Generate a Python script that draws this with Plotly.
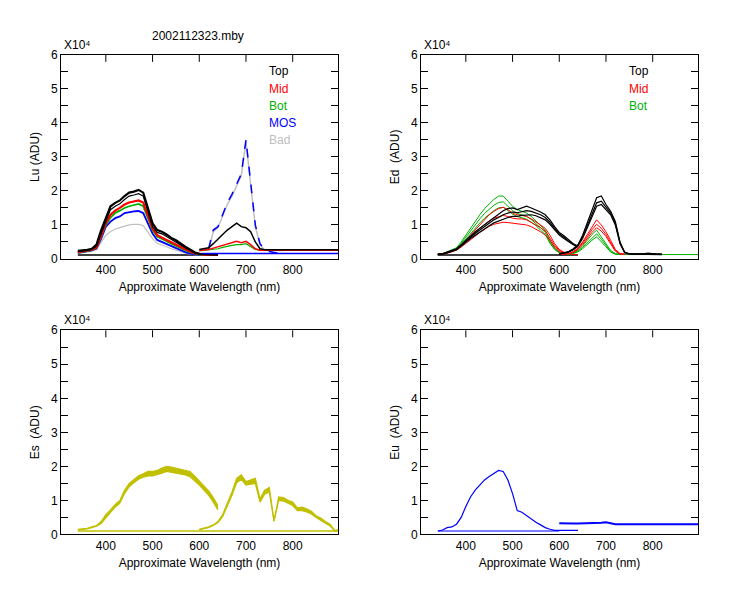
import plotly.graph_objects as go

# ---------------- data (values in units of 10^4 ADU) ----------------
WL_A = [340, 350, 360, 370, 380, 390, 400, 410, 420, 430, 440, 450, 460, 470, 480, 490,
        500, 510, 520, 530, 540, 550, 560, 570, 580, 590, 600, 610, 620, 630, 640]
WL_B = [600, 610, 620, 630, 640, 650, 660, 670, 680, 690, 700, 710, 720, 730, 740, 750,
        760, 770, 780, 790, 800, 810, 820, 830, 840, 850, 860, 870, 880, 890, 900]
DARK_A_X = [340, 640]
DARK_FULL_X = [340, 900]

# Lu
LU_TOP_A = [.24, .25, .27, .30, .42, .85, 1.20, 1.55, 1.65, 1.72, 1.85, 1.95, 1.98, 2.03, 1.95, 1.50,
            1.05, .85, .80, .72, .62, .55, .45, .36, .28, .20, .15, .14, .13, .13, .13]
LU_TOP2_A = [.22, .23, .25, .28, .38, .75, 1.10, 1.45, 1.55, 1.62, 1.75, 1.85, 1.88, 1.92, 1.85, 1.40,
             .95, .78, .74, .66, .57, .50, .41, .33, .25, .18, .14, .13, .13, .13, .13]
LU_MID_A = [.20, .22, .24, .27, .34, .70, 1.05, 1.30, 1.42, 1.50, 1.60, 1.66, 1.70, 1.72, 1.66, 1.30,
            .90, .70, .64, .56, .49, .42, .35, .28, .22, .17, .14, .13, .12, .12, .12]
LU_BOT_A = [.19, .21, .23, .26, .33, .66, 1.00, 1.22, 1.35, 1.42, 1.50, 1.55, 1.58, 1.62, 1.55, 1.22,
            .85, .66, .60, .52, .45, .38, .32, .26, .20, .16, .13, .12, .12, .12, .12]
LU_MOS_A = [.18, .20, .22, .25, .31, .60, .95, 1.10, 1.20, 1.25, 1.35, 1.38, 1.40, 1.41, 1.35, 1.05,
            .75, .56, .50, .43, .36, .30, .25, .20, .16, .13, .12, .12, .12, .12, .12]
LU_BAD_A = [.16, .18, .20, .23, .28, .50, .70, .80, .88, .92, .97, 1.00, 1.02, 1.02, .98, .80,
            .60, .46, .42, .36, .30, .25, .21, .17, .14, .12, .11, .11, .11, .11, .11]
LU_DARK_A = [.12, .12]

LU_TOP_B = [.28, .30, .33, .45, .60, .72, .85, .95, 1.05, .95, .92, .80, .50, .30, .27, .27,
            .27, .27, .27, .27, .27, .27, .27, .27, .27, .27, .27, .27, .27, .27, .27]
LU_MID_B = [.25, .26, .28, .32, .36, .40, .45, .50, .52, .48, .52, .42, .30, .26, .26, .26,
            .26, .26, .26, .26, .26, .26, .26, .26, .26, .26, .26, .26, .26, .26, .26]
LU_BOT_B = [.24, .25, .26, .28, .30, .34, .38, .40, .42, .42, .45, .36, .28, .26, .26, .26,
            .26, .26, None, None, None, None, None, None, None, None, None, None, None, None, None]
LU_MOS_B = [None, None, .30, .85, .95, 1.30, 1.65, 1.90, 2.20, 2.50, 3.50, 2.20, 1.00, .45, .28, .22,
            .18, .16, None, None, None, None, None, None, None, None, None, None, None, None, None]
LU_BAD_B = [None, None, .25, .80, .92, 1.25, 1.60, 1.85, 2.15, 2.45, 3.45, 2.10, .95, .42, .26, .25,
            .25, .25, .25, None, None, None, None, None, None, None, None, None, None, None, None]
LU_MOS_FLAT_X = [605, 900]
LU_MOS_FLAT = [.16, .16]

# Ed
ED_TOP1_A = [.14, .15, .20, .24, .30, .42, .55, .68, .80, .90, 1.00, 1.12, 1.22, 1.32, 1.42, 1.48,
             1.50, 1.45, 1.50, 1.55, 1.50, 1.45, 1.38, 1.30, 1.15, .95, .78, .68, .55, .45, .38]
ED_TOP2_A = [.14, .15, .19, .23, .28, .40, .52, .64, .75, .85, .95, 1.05, 1.15, 1.22, 1.30, 1.35,
             1.38, 1.36, 1.40, 1.42, 1.40, 1.36, 1.30, 1.22, 1.08, .90, .74, .64, .52, .43, .36]
ED_TOP3_A = [.13, .14, .18, .22, .27, .38, .50, .60, .70, .80, .90, .98, 1.06, 1.12, 1.18, 1.22,
             1.25, 1.25, 1.28, 1.30, 1.30, 1.27, 1.22, 1.15, 1.02, .85, .70, .60, .50, .42, .35]
ED_MID1_A = [.14, .15, .19, .23, .28, .40, .55, .70, .85, 1.00, 1.15, 1.30, 1.40, 1.48, 1.52, 1.45,
             1.35, 1.30, 1.28, 1.25, 1.18, 1.10, 1.00, .90, .70, .45, .28, .20, .15, .13, .13]
ED_MID2_A = [.14, .15, .18, .22, .27, .38, .50, .64, .77, .90, 1.02, 1.12, 1.20, 1.25, 1.28, 1.25,
             1.20, 1.18, 1.18, 1.15, 1.08, 1.00, .92, .82, .62, .40, .25, .18, .14, .13, .13]
ED_MID3_A = [.13, .14, .17, .21, .26, .35, .45, .56, .67, .78, .88, .96, 1.02, 1.06, 1.08, 1.07,
             1.05, 1.03, 1.02, 1.00, .95, .88, .80, .70, .55, .35, .22, .16, .14, .13, .13]
ED_BOT1_A = [.14, .16, .21, .26, .33, .50, .70, .92, 1.12, 1.30, 1.48, 1.62, 1.75, 1.85, 1.85, 1.70,
             1.55, 1.45, 1.40, 1.35, 1.25, 1.12, 1.00, .85, .55, .32, .20, .15, .13, .13, .13]
ED_BOT2_A = [.14, .15, .20, .25, .31, .46, .64, .84, 1.02, 1.18, 1.34, 1.47, 1.58, 1.66, 1.68, 1.55,
             1.42, 1.34, 1.30, 1.25, 1.16, 1.05, .92, .78, .50, .30, .19, .14, .13, .13, .13]
ED_BOT3_A = [.13, .15, .19, .24, .29, .42, .58, .76, .92, 1.06, 1.20, 1.32, 1.42, 1.50, 1.52, 1.42,
             1.32, 1.25, 1.22, 1.17, 1.08, .98, .85, .72, .46, .28, .18, .14, .13, .13, .13]
ED_DARK_A = [.12, .12]

ED_TOP1_B = [.15, .18, .22, .30, .42, .70, 1.05, 1.45, 1.80, 1.85, 1.60, 1.40, 1.10, .50, .20, .15,
             .15, .14, .15, .17, .15, .14, .14, None, None, None, None, None, None, None, None]
ED_TOP2_B = [.15, .17, .21, .28, .40, .65, .98, 1.35, 1.65, 1.70, 1.52, 1.35, 1.05, .48, .19, .15,
             .15, .14, .15, .16, .15, .14, .14, None, None, None, None, None, None, None, None]
ED_TOP3_B = [.14, .16, .20, .27, .38, .60, .90, 1.25, 1.55, 1.60, 1.45, 1.30, 1.00, .45, .18, .14,
             .14, .14, .14, .15, .14, .14, .13, None, None, None, None, None, None, None, None]
ED_MID1_B = [.14, .14, .16, .22, .32, .50, .72, .95, 1.15, 1.00, .80, .55, .28, .16, .14, None,
             None, None, None, None, None, None, None, None, None, None, None, None, None, None, None]
ED_MID2_B = [.14, .14, .15, .20, .30, .46, .66, .86, 1.02, .90, .72, .50, .25, .15, .14, None,
             None, None, None, None, None, None, None, None, None, None, None, None, None, None, None]
ED_MID3_B = [.13, .13, .15, .19, .28, .42, .60, .78, .92, .82, .66, .45, .23, .15, .14, None,
             None, None, None, None, None, None, None, None, None, None, None, None, None, None, None]
ED_BOT1_B = [.13, .13, .15, .18, .25, .38, .55, .72, .85, .65, .45, .25, .16, .14, .13, .13,
             .13, .13, .13, .13, .13, .13, .13, .13, .13, .13, .13, .13, .13, .13, .13]
ED_BOT2_B = [.13, .13, .14, .17, .23, .34, .48, .62, .74, .58, .40, .22, .15, .13, .13, None,
             None, None, None, None, None, None, None, None, None, None, None, None, None, None, None]
ED_BOT3_B = [.13, .13, .14, .16, .21, .30, .43, .55, .65, .52, .36, .20, .14, .13, .13, None,
             None, None, None, None, None, None, None, None, None, None, None, None, None, None, None]

# Es
ES_HI_A = [.15, .16, .18, .22, .26, .38, .58, .72, .88, 1.00, 1.30, 1.50, 1.62, 1.72, 1.78, 1.85,
           1.85, 1.88, 1.95, 2.00, 1.98, 1.95, 1.92, 1.90, 1.85, 1.72, 1.58, 1.42, 1.28, 1.08, .85]
ES_LO_A = [.13, .14, .16, .20, .24, .32, .50, .65, .80, .92, 1.20, 1.40, 1.52, 1.62, 1.68, 1.72,
           1.72, 1.75, 1.80, 1.85, 1.83, 1.80, 1.78, 1.75, 1.70, 1.58, 1.45, 1.30, 1.15, .95, .72]
ES_HI_B = [.15, .18, .22, .28, .38, .58, .90, 1.25, 1.65, 1.75, 1.55, 1.60, 1.65, 1.05, 1.30, 1.38,
           .40, 1.10, 1.08, 1.00, .95, .78, .80, .75, .68, .55, .48, .38, .30, .12, .14]
ES_LO_B = [.14, .16, .20, .26, .35, .52, .82, 1.15, 1.52, 1.62, 1.45, 1.48, 1.50, .95, 1.18, 1.25,
           .38, 1.00, .98, .92, .85, .70, .70, .66, .60, .50, .42, .33, .25, .10, .12]
ES_DARK = [.10, .10]

# Eu
EU_A = [.10, .13, .20, .22, .30, .50, .82, 1.10, 1.30, 1.45, 1.60, 1.70, 1.80, 1.88, 1.85, 1.60,
        1.20, .70, .65, .55, .45, .36, .28, .20, .15, .12, .12, .12, .12, .12, .12]
EU_B = [.33, .32, .32, .32, .32, .32, .32, .33, .33, .34, .36, .33, .30, .30, .30, .30,
        .30, .30, .30, .30, .30, .30, .30, .30, .30, .30, .30, .30, .30, .30, .30]
EU_DARK_X = [340, 600]
EU_DARK = [.10, .10]

Y_TICKS = [0, 1, 2, 3, 4, 5, 6]
X_TICKS = [400, 500, 600, 700, 800]

BLACK, RED, GREEN, BLUE, GRAY, OLIVE = "#000000", "#ff0000", "#00b000", "#0000ff", "#c0c0c0", "#c0c000"
FONT = "Liberation Sans, Arial, sans-serif"

fig = go.Figure()


def line(x, y, color, ax, width=1.2, dash=None, fill=None):
    fig.add_trace(go.Scatter(x=x, y=y, mode="lines", xaxis="x" + ax, yaxis="y" + ax,
                             line=dict(color=color, width=width, dash=dash),
                             fill=fill, fillcolor=color if fill else None,
                             connectgaps=False, showlegend=False, hoverinfo="skip"))


# Lu (panel 1)
line(DARK_A_X, LU_DARK_A, BLACK, "", 1.5)
line(WL_A, LU_BAD_A, GRAY, "")
line(WL_A, LU_MOS_A, BLUE, "", 1.8)
line(WL_A, LU_BOT_A, GREEN, "", 1.8)
line(WL_A, LU_MID_A, RED, "", 2.2)
line(WL_A, LU_TOP2_A, BLACK, "", 1.2)
line(WL_A, LU_TOP_A, BLACK, "", 2.2)
line(LU_MOS_FLAT_X, LU_MOS_FLAT, BLUE, "", 1.5)
line(WL_B, LU_BAD_B, GRAY, "", 1.5)
line(WL_B, LU_MOS_B, BLUE, "", 1.5, "dash")
line(WL_B, LU_BOT_B, GREEN, "", 1.2)
line(WL_B, LU_MID_B, RED, "", 1.5)
line(WL_B, LU_TOP_B, BLACK, "", 1.5)

# Ed (panel 2)
line(DARK_A_X, ED_DARK_A, BLACK, "2", 1.5)
for y in (ED_BOT1_A, ED_BOT2_A, ED_BOT3_A):
    line(WL_A, y, GREEN, "2", 1.0)
for y in (ED_MID1_A, ED_MID2_A, ED_MID3_A):
    line(WL_A, y, RED, "2", 1.0)
for y in (ED_TOP1_A, ED_TOP2_A, ED_TOP3_A):
    line(WL_A, y, BLACK, "2", 1.2)
for y in (ED_BOT1_B, ED_BOT2_B, ED_BOT3_B):
    line(WL_B, y, GREEN, "2", 1.0)
for y in (ED_MID1_B, ED_MID2_B, ED_MID3_B):
    line(WL_B, y, RED, "2", 1.0)
for y in (ED_TOP1_B, ED_TOP2_B, ED_TOP3_B):
    line(WL_B, y, BLACK, "2", 1.2)

# Es (panel 3) - band drawn as filled region between lower and upper traces
line(DARK_FULL_X, ES_DARK, OLIVE, "3", 1.5)
line(WL_A, ES_LO_A, OLIVE, "3", 1.2)
line(WL_A, ES_HI_A, OLIVE, "3", 1.2, fill="tonexty")
line(WL_B, ES_LO_B, OLIVE, "3", 1.2)
line(WL_B, ES_HI_B, OLIVE, "3", 1.2, fill="tonexty")

# Eu (panel 4)
line(EU_DARK_X, EU_DARK, BLUE, "4", 1.2)
line(WL_A, EU_A, BLUE, "4", 1.2)
line(WL_B, EU_B, BLUE, "4", 2.0)

W, H = 750, 600
panels = {  # name: (left, right, top, bottom) in px
    "": (61, 338, 49, 258),
    "2": (421, 698, 49, 258),
    "3": (61, 338, 331, 540),
    "4": (421, 698, 331, 540),
}
ylabels = {"": "Lu (ADU)", "2": "Ed  (ADU)", "3": "Es  (ADU)", "4": "Eu  (ADU)"}

layout = dict(width=W, height=H, margin=dict(l=0, r=0, t=0, b=0, pad=0),
              paper_bgcolor="white", plot_bgcolor="white",
              font=dict(family=FONT, size=12, color="black"), showlegend=False)
annotations = []
shapes = []
for key, (l, r, t, b) in panels.items():
    xd = [l / W, r / W]
    yd = [1 - b / H, 1 - t / H]
    layout["xaxis" + key] = dict(domain=xd, anchor="y" + key, range=[304, 897],
                                 tickvals=X_TICKS, ticks="", showline=True, mirror=True,
                                 linecolor="black", linewidth=1, showgrid=False, zeroline=False,
                                 tickfont=dict(size=12),
                                 title=dict(text="Approximate Wavelength (nm)", standoff=6,
                                            font=dict(size=12)))
    layout["yaxis" + key] = dict(domain=yd, anchor="x" + key, range=[0, 6],
                                 tickvals=Y_TICKS, ticks="inside", ticklen=7,
                                 tickcolor="black", mirror="ticks", showline=True, linecolor="black",
                                 linewidth=1, showgrid=False, zeroline=False, tickfont=dict(size=12),
                                 minor=dict(dtick=0.5, tick0=0, ticks="inside", ticklen=7,
                                            tickcolor="black", showgrid=False),
                                 title=dict(text=ylabels[key], standoff=8, font=dict(size=12)))
    # x tick marks hanging from the top frame edge only (as in the reference)
    for xv in X_TICKS:
        shapes.append(dict(type="line", xref="x" + key, yref="y%s domain" % key,
                           x0=xv, x1=xv, ysizemode="pixel", yanchor=1, y0=0, y1=-7,
                           line=dict(color="black", width=1)))
    annotations.append(dict(text="X10\u2074", x=l + 1, y=t - 1, xanchor="left",
                            yanchor="bottom", showarrow=False, font=dict(size=12)))

annotations.append(dict(text="2002112323.mby", x=198, y=30, xanchor="center", yanchor="middle",
                        showarrow=False, font=dict(size=12)))
for i, (name, col) in enumerate([("Top", BLACK), ("Mid", RED), ("Bot", GREEN), ("MOS", BLUE), ("Bad", GRAY)]):
    annotations.append(dict(text=name, x=267, y=66 + i * 17.6, xanchor="left", yanchor="middle",
                            showarrow=False, font=dict(size=12, color=col)))
for i, (name, col) in enumerate([("Top", BLACK), ("Mid", RED), ("Bot", GREEN)]):
    annotations.append(dict(text=name, x=627, y=66 + i * 17.6, xanchor="left", yanchor="middle",
                            showarrow=False, font=dict(size=12, color=col)))

for a in annotations:
    a["x"] = a["x"] / W
    a["y"] = 1 - a["y"] / H
    a["xref"] = "paper"
    a["yref"] = "paper"
layout["annotations"] = annotations
layout["shapes"] = shapes
fig.update_layout(**layout)
fig.write_html("out.html", config={"displayModeBar": False},
               post_script="document.body.style.margin='0';document.body.style.overflow='hidden';")
